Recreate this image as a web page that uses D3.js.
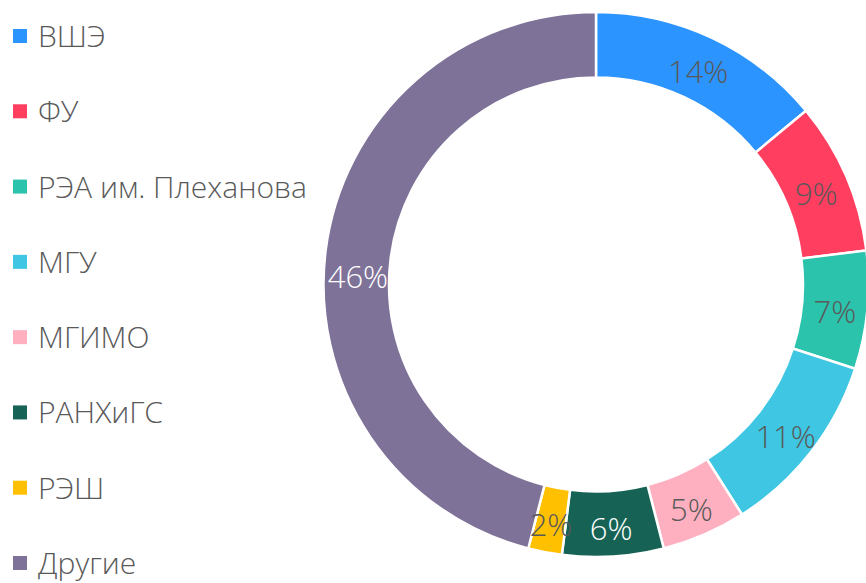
<!DOCTYPE html>
<html>
<head>
<meta charset="utf-8">
<script src="https://cdn.jsdelivr.net/npm/d3@7"></script>
<style>
  body { margin: 0; background: #fff; }
  text { font-family: "Open Sans", sans-serif; font-weight: 300; }
</style>
</head>
<body>
<script>
// Données
const names = ['ВШЭ', 'ФУ', 'РЭА им. Плеханова', 'МГУ', 'МГИМО', 'РАНХиГС', 'РЭШ', 'Другие'];
const shares = [14, 9, 7, 11, 5, 6, 2, 46];
const colors = ['#2b94ff', '#ff3e60', '#2cc3ad', '#3ec6e2', '#ffb0c0', '#166356', '#ffc000', '#7e7298'];
const labelColors = ['#595959', '#595959', '#595959', '#595959', '#595959', '#ffffff', '#595959', '#ffffff'];

const width = 866, height = 583;
const cx = 596, cy = 284.5;
const outerR = 272.5, innerR = 207;

const svg = d3.select('body')
    .append('svg')
    .attr('width', width)
    .attr('height', height);

const data = names.map((n, i) => ({ name: n, value: shares[i], color: colors[i], label: labelColors[i] }));

const pie = d3.pie()
    .sort(null)
    .value(d => d.value);

const arc = d3.arc()
    .innerRadius(innerR)
    .outerRadius(outerR);

const labelArc = d3.arc()
    .innerRadius(240)
    .outerRadius(240);

const g = svg.append('g')
    .attr('transform', `translate(${cx}, ${cy})`);

const arcs = pie(data);

g.selectAll('path')
    .data(arcs)
    .join('path')
    .attr('d', arc)
    .attr('fill', d => d.data.color)
    .attr('stroke', '#fff')
    .attr('stroke-width', 2.5);

// Étiquettes (celle de "Другие" a été déplacée à la main dans l'original)
g.selectAll('text.pct')
    .data(arcs)
    .join('text')
    .attr('class', 'pct')
    .attr('x', d => labelArc.centroid(d)[0])
    .attr('y', d => labelArc.centroid(d)[1] + 16 + (d.data.name === 'Другие' ? 18 : 0))
    .attr('text-anchor', 'middle')
    .attr('font-size', 31)
    .attr('fill', d => d.data.label)
    .text(d => `${d.data.value}%`);

// Légende
const legendY = d3.scalePoint()
    .domain(names)
    .range([36, 563]);

const legend = svg.append('g')
    .selectAll('g')
    .data(data)
    .join('g')
    .attr('transform', d => `translate(0, ${legendY(d.name)})`);

legend.append('rect')
    .attr('x', 13)
    .attr('y', -7)
    .attr('width', 14)
    .attr('height', 14)
    .attr('fill', d => d.color);

legend.append('text')
    .attr('x', 38)
    .attr('y', 11)
    .attr('font-size', 30)
    .attr('fill', '#595959')
    .text(d => d.name);
</script>
</body>
</html>
